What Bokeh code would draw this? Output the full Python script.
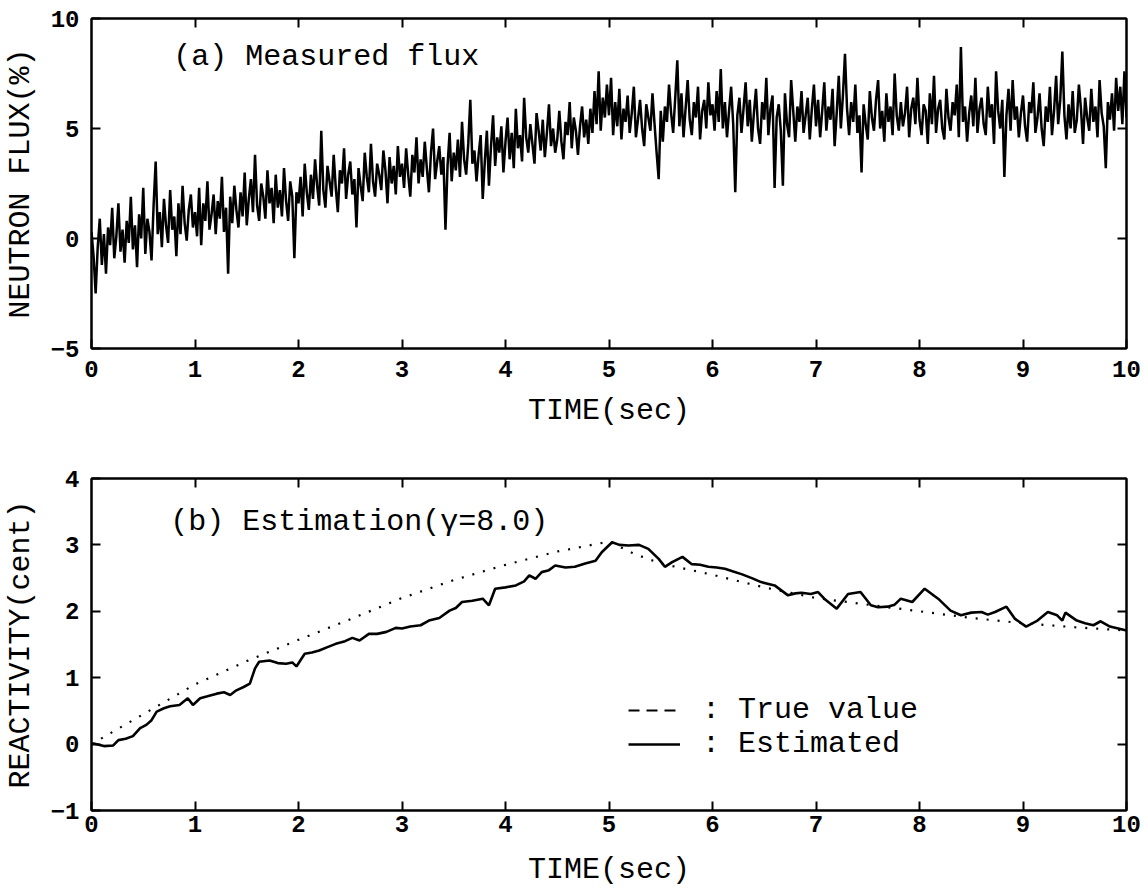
import numpy as np
from bokeh.plotting import figure
from bokeh.layouts import column
from bokeh.models import Range1d, LinearAxis, FixedTicker, Label, Legend, LegendItem
from bokeh.embed import file_html
from bokeh.resources import INLINE

# ---------------- data ----------------
flux_dt = 0.02  # sampling interval (s)
flux = [
    0.3, -0.8, -2.5, -0.4, 0.9, -1.2, 0.2, -1.6, 0.5, -0.3,
    1.4, -0.9, 0.1, 1.6, -0.6, 0.4, -1.1, 0.8, -0.2, 1.9,
    -0.5, 0.6, -1.3, 1.1, 0.0, 2.3, -0.7, 0.9, 0.3, -1.0,
    1.5, 3.5, 0.2, 1.2, -0.4, 1.8, 0.6, -0.2, 2.2, 0.4,
    1.0, -0.8, 1.6, 0.2, 2.4, 0.7, -0.1, 1.3, 2.0, 0.5,
    1.2, 0.1, 2.3, -0.3, 1.6, 0.8, 2.6, 0.4, 1.1, 2.0,
    0.2, 1.7, 0.9, 2.8, 0.3, 1.4, -1.6, 1.9, 0.7, 2.4,
    1.3, 0.5, 2.1, 1.0, 3.0, 0.6, 1.8, 2.7, 1.2, 3.8,
    1.5, 0.8, 2.5, 1.9, 0.9, 3.1, 1.6, 2.3, 0.7, 2.9,
    1.4, 2.2, 1.0, 3.2, 1.7, 0.8, 2.6, 1.9, -0.9, 2.1,
    1.6, 2.8, 1.0, 3.4, 2.1, 1.3, 2.9, 1.8, 3.6, 2.4,
    1.5, 4.9, 2.2, 1.4, 3.3, 2.6, 1.9, 3.8, 2.3, 1.2,
    3.1, 2.5, 4.1, 1.8, 2.9, 3.5, 2.0, 2.7, 0.5, 3.2,
    2.4, 1.7, 3.9, 2.8, 2.1, 4.3, 2.6, 1.9, 3.4, 2.9,
    2.2, 4.0, 3.1, 1.6, 3.7, 2.5, 3.3, 2.0, 4.2, 2.8,
    3.4, 2.3, 4.1, 2.9, 1.9, 3.8, 3.0, 4.6, 2.5, 3.6,
    2.8, 4.4, 3.2, 2.1, 3.9, 5.0, 2.7, 3.5, 4.2, 2.9,
    3.7, 0.4, 3.3, 4.8, 2.6, 3.9, 3.1, 4.5, 2.8, 5.3,
    3.6, 2.9, 4.3, 6.3, 3.4, 4.0, 2.6, 3.8, 4.7, 1.8,
    3.5, 4.9, 2.4, 4.2, 5.6, 3.3, 4.6, 3.9, 5.1, 3.0,
    4.4, 5.5, 3.6, 4.8, 3.2, 5.9, 4.1, 4.7, 3.5, 6.4,
    4.6, 3.9, 5.2, 4.3, 3.4, 5.7, 4.9, 4.0, 5.4, 3.7,
    4.8, 6.1, 4.2, 5.0, 3.9, 4.5, 5.8, 4.4, 3.6, 5.3,
    4.7, 6.2, 4.1, 5.5, 4.9, 3.8, 5.1, 6.0, 4.6, 5.4,
    4.3, 5.9, 4.8, 6.7, 5.2, 7.6, 4.9, 6.4, 5.5, 7.0,
    5.6, 7.3, 4.7, 6.2, 5.1, 6.8, 4.5, 5.9, 5.3, 6.5,
    4.8, 5.7, 6.9, 4.6, 5.4, 6.3, 5.0, 4.2, 6.1, 5.5,
    4.9, 6.6, 5.2, 3.9, 2.7, 5.8, 4.4, 6.0, 5.3, 7.0,
    5.7, 4.8, 6.4, 8.1, 5.1, 6.6, 4.6, 5.9, 7.2, 5.4,
    4.7, 6.2, 5.5, 6.9, 4.5, 5.8, 6.3, 5.0, 7.1, 5.6,
    6.1, 4.9, 6.7, 5.3, 7.7, 5.0, 6.2, 4.6, 5.8, 6.9,
    5.2, 2.1, 5.6, 6.4, 4.8, 5.9, 7.1, 5.1, 6.3, 4.4,
    5.7, 6.8, 5.0, 4.3, 6.2, 5.4, 7.3, 4.7, 5.9, 6.5,
    2.3, 5.5, 6.1, 4.9, 2.4, 6.6, 5.2, 4.6, 7.2, 5.8,
    4.4, 6.0, 5.3, 6.7, 4.8, 5.6, 6.4, 4.5, 5.9, 7.0,
    5.1, 6.3, 4.6, 5.8, 7.1, 4.9, 6.0, 5.4, 6.8, 4.2,
    5.7, 7.4, 5.0, 6.5, 8.4, 5.9, 4.7, 6.2, 5.3, 7.0,
    4.8, 5.6, 3.0, 6.1, 5.2, 4.5, 6.7, 5.5, 4.9, 6.3,
    7.2, 5.0, 5.8, 4.4, 6.6, 5.3, 6.0, 4.7, 7.5, 5.6,
    4.9, 6.2, 5.1, 5.7, 6.9, 4.6, 5.9, 6.4, 5.2, 7.3,
    5.4, 4.7, 6.1, 5.8, 4.3, 6.6, 5.2, 7.4, 4.8, 5.9,
    6.3, 5.0, 4.5, 6.8, 5.5, 4.9, 6.2, 5.6, 7.0, 4.6,
    8.7, 5.3, 6.0, 4.4, 5.7, 6.5, 5.1, 7.3, 4.8, 5.9,
    6.4, 5.2, 4.7, 6.9, 5.5, 6.1, 4.3, 7.6, 5.8, 5.0,
    6.3, 2.8, 5.6, 6.8, 4.9, 7.2, 5.4, 6.0, 4.6, 5.7,
    6.5, 5.1, 4.4, 6.2, 5.7, 7.1, 4.8, 5.5, 6.6, 5.0,
    4.2, 6.0, 5.3, 6.9, 4.7, 5.8, 7.4, 5.2, 6.3, 8.5,
    5.6, 4.5, 6.1, 5.0, 6.7, 4.8, 5.4, 7.0, 5.9, 4.3,
    6.4, 5.5, 4.9, 6.8, 5.3, 6.0, 4.6, 7.2, 5.7, 5.1,
    3.2, 6.2, 5.4, 6.6, 4.9, 7.3, 5.8, 6.9, 5.2, 7.6,
    5.5,
]
flux_t = np.arange(len(flux)) * flux_dt

true_t = [0.0, 0.5, 1.0, 1.5, 2.0, 2.5, 3.0, 3.5, 4.0, 4.5, 5.0,
          5.25, 5.5, 6.0, 6.5, 7.0, 7.5, 8.0, 8.5, 9.0, 9.5, 10.0]
true_y = [0.0, 0.45, 0.9, 1.25, 1.57, 1.88, 2.2, 2.47, 2.7, 2.9, 3.05,
          2.86, 2.72, 2.55, 2.36, 2.2, 2.1, 2.0, 1.9, 1.82, 1.76, 1.71]

est_t = [0.0, 0.02, 0.12, 0.21, 0.26, 0.33, 0.4, 0.47, 0.53, 0.58, 0.63, 0.7, 0.76, 0.85,
         0.93, 0.98, 1.05, 1.12, 1.21, 1.28, 1.34, 1.4, 1.47, 1.53, 1.58, 1.62, 1.72, 1.8,
         1.88, 1.94, 1.98, 2.06, 2.13, 2.2, 2.28, 2.36, 2.45, 2.52, 2.59, 2.68, 2.76, 2.85,
         2.94, 3.0, 3.08, 3.18, 3.26, 3.36, 3.46, 3.52, 3.58, 3.68, 3.78, 3.84, 3.9, 4.0,
         4.1, 4.18, 4.23, 4.29, 4.35, 4.42, 4.48, 4.58, 4.67, 4.77, 4.87, 4.93, 5.03, 5.1,
         5.19, 5.29, 5.38, 5.48, 5.54, 5.61, 5.71, 5.8, 5.88, 5.96, 6.04, 6.12, 6.2, 6.28,
         6.38, 6.47, 6.6, 6.73, 6.8, 6.86, 6.95, 7.02, 7.08, 7.2, 7.31, 7.43, 7.53, 7.6,
         7.69, 7.76, 7.82, 7.93, 8.05, 8.18, 8.3, 8.4, 8.5, 8.6, 8.66, 8.73, 8.84, 8.92,
         9.03, 9.14, 9.24, 9.33, 9.38, 9.41, 9.52, 9.6, 9.68, 9.75, 9.84, 9.92, 10.0]
est_y = [0.0, 0.01, -0.03, -0.02, 0.06, 0.08, 0.12, 0.24, 0.29, 0.36, 0.49, 0.54, 0.57, 0.59,
         0.69, 0.59, 0.69, 0.72, 0.76, 0.78, 0.74, 0.81, 0.86, 0.91, 1.14, 1.24, 1.26, 1.22,
         1.21, 1.23, 1.17, 1.36, 1.38, 1.41, 1.46, 1.51, 1.55, 1.6, 1.56, 1.66, 1.66, 1.69,
         1.75, 1.74, 1.77, 1.79, 1.86, 1.9, 2.01, 2.05, 2.14, 2.16, 2.19, 2.09, 2.34, 2.36,
         2.39, 2.45, 2.54, 2.49, 2.59, 2.62, 2.69, 2.66, 2.67, 2.72, 2.76, 2.89, 3.04, 3.0,
         2.99, 3.0, 2.94, 2.79, 2.67, 2.74, 2.82, 2.71, 2.7, 2.67, 2.66, 2.64, 2.6, 2.56,
         2.5, 2.44, 2.39, 2.24, 2.27, 2.28, 2.26, 2.29, 2.19, 2.04, 2.26, 2.29, 2.09, 2.06,
         2.07, 2.1, 2.19, 2.14, 2.34, 2.19, 2.01, 1.94, 1.98, 1.99, 1.95, 1.99, 2.07, 1.89,
         1.77, 1.86, 1.99, 1.94, 1.86, 1.98, 1.86, 1.82, 1.79, 1.85, 1.77, 1.74, 1.71]

x_ticks = list(range(0, 11))
flux_ticks = [-5, 0, 5, 10]
react_ticks = [-1, 0, 1, 2, 3, 4]

MONO = "Liberation Mono"


def style(p, yticks, label_standoff_x, title_standoff_x, ylabel_standoff):
    p.grid.visible = False
    p.outline_line_color = "black"
    p.outline_line_width = 2
    p.background_fill_color = "white"
    p.border_fill_color = "white"
    p.xaxis.ticker = FixedTicker(ticks=x_ticks)
    p.yaxis.ticker = FixedTicker(ticks=yticks)
    for ax in p.xaxis + p.yaxis:
        ax.major_tick_in = 9
        ax.major_tick_out = 0
        ax.minor_tick_in = 0
        ax.minor_tick_out = 0
        ax.axis_line_width = 2
        ax.major_tick_line_width = 2
        ax.major_label_text_font = MONO
        ax.major_label_text_font_style = "bold"
        ax.major_label_text_font_size = "24px"
        ax.major_label_text_color = "black"
        ax.axis_label_text_font = MONO
        ax.axis_label_text_font_style = "normal"
        ax.axis_label_text_font_size = "30px"
        ax.axis_label_text_color = "black"
    p.xaxis.major_label_standoff = label_standoff_x
    p.xaxis.axis_label_standoff = title_standoff_x
    p.yaxis.major_label_standoff = 12
    p.yaxis.axis_label_standoff = ylabel_standoff
    top = LinearAxis(ticker=FixedTicker(ticks=x_ticks[1:-1]),
                     major_label_overrides={t: "" for t in x_ticks},
                     major_tick_in=9, major_tick_out=0, minor_tick_in=0, minor_tick_out=0,
                     major_label_standoff=0, axis_line_width=2, major_tick_line_width=2)
    right = LinearAxis(ticker=FixedTicker(ticks=yticks[1:-1]),
                       major_label_overrides={t: "" for t in yticks},
                       major_tick_in=9, major_tick_out=0, minor_tick_in=0, minor_tick_out=0,
                       major_label_standoff=0, axis_line_width=2, major_tick_line_width=2)
    p.add_layout(top, "above")
    p.add_layout(right, "right")


# ---------------- top panel ----------------
p1 = figure(width=1148, height=440, output_backend="svg", toolbar_location=None,
            x_range=Range1d(0, 10), y_range=Range1d(-5, 10),
            min_border_left=91, min_border_right=16, min_border_top=18, min_border_bottom=92,
            x_axis_label="TIME(sec)", y_axis_label="NEUTRON FLUX(%)")
p1.line(flux_t, flux, line_color="black", line_width=2.5)
style(p1, flux_ticks, 12, 14, 10)
p1.add_layout(Label(x=0.79, y=8.25, text="(a) Measured flux", text_font=MONO,
                    text_font_size="30px", text_baseline="middle", text_color="black"))

# ---------------- bottom panel ----------------
p2 = figure(width=1148, height=449, output_backend="svg", toolbar_location=None,
            x_range=Range1d(0, 10), y_range=Range1d(-1, 4),
            min_border_left=88, min_border_right=22, min_border_top=38, min_border_bottom=78,
            x_axis_label="TIME(sec)", y_axis_label="REACTIVITY(cent)")
r_true = p2.line(true_t, true_y, line_color="black", line_width=2.2, line_dash="2 9")
r_est = p2.line(est_t, est_y, line_color="black", line_width=2.6)
r_dash = p2.line(x=[float("nan")], y=[float("nan")], line_color="black", line_width=2.2,
                 line_dash="11 7")
style(p2, react_ticks, 5, 18, 10)
p2.add_layout(Label(x=0.76, y=3.34, text="(b) Estimation(\u03b3=8.0)", text_font=MONO,
                    text_font_size="30px", text_baseline="middle", text_color="black"))

legend = Legend(items=[LegendItem(label=": True value", renderers=[r_dash]),
                       LegendItem(label=": Estimated", renderers=[r_est])],
                location=(537, 49), padding=0, margin=0, spacing=0,
                glyph_width=52, glyph_height=32, label_height=32, label_standoff=22,
                label_text_font=MONO, label_text_font_size="30px",
                label_text_color="black", label_text_line_height=1.0,
                border_line_color=None, background_fill_alpha=0)
p2.add_layout(legend)

layout = column(p1, p2, spacing=0)
open("out.html", "w").write(file_html(layout, INLINE))
